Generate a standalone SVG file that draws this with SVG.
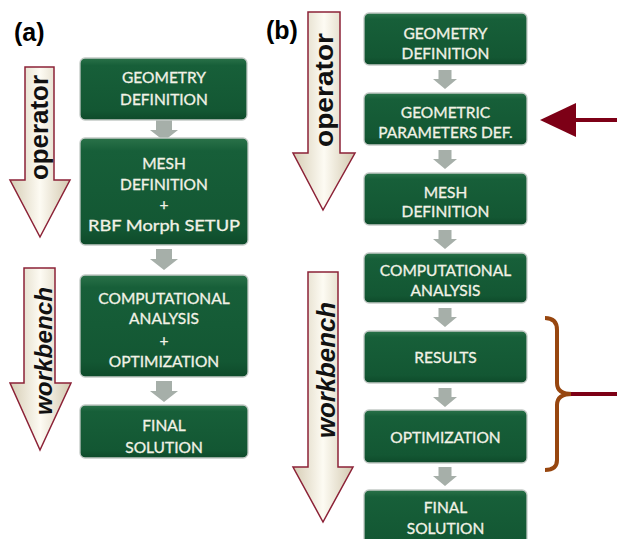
<svg xmlns="http://www.w3.org/2000/svg" width="617" height="539" viewBox="0 0 617 539">
<defs>
<linearGradient id="gBox" x1="0" y1="0" x2="0" y2="1">
<stop offset="0" stop-color="#2a7249"/>
<stop offset="0.12" stop-color="#175f39"/>
<stop offset="0.85" stop-color="#135733"/>
<stop offset="1" stop-color="#0e4a2a"/>
</linearGradient>
<linearGradient id="gCream" x1="0" y1="0" x2="1" y2="0">
<stop offset="0" stop-color="#d6cdb5"/>
<stop offset="0.5" stop-color="#fdfbf3"/>
<stop offset="1" stop-color="#d3c9b0"/>
</linearGradient>
<path id="arA" d="M-8,0 H8 V10 H14 L0,21 L-14,10 H-8 Z"/>
<path id="arB" d="M-6.5,0 H6.5 V9 H12 L0,19 L-12,9 H-6.5 Z"/>
</defs>
<style>
.box{fill:url(#gBox);stroke:#c3cac6;stroke-width:1.3}
.t{font-family:Lato,"Open Sans","Liberation Sans",sans-serif;font-size:15.5px;fill:#f2f2e6;stroke:#f2f2e6;stroke-width:0.3;text-anchor:middle}
.big{fill:url(#gCream);stroke:#8c2237;stroke-width:1.5;stroke-linejoin:miter}
.bt{font-family:"Liberation Sans",Arial,sans-serif;font-weight:bold;fill:#111;text-anchor:middle}
.lab{font-family:"Liberation Sans",Arial,sans-serif;font-weight:bold;font-size:25px;fill:#000}
.ga{fill:#a6afa9}
</style>
<rect width="617" height="539" fill="#ffffff"/>

<text class="lab" x="14" y="41">(a)</text>
<text class="lab" x="266" y="39">(b)</text>

<g id="big-arrows">
<g id="operator-a">
<path class="big" d="M25,67 H54 V180 H70 L40,237 L10,180 H25 Z"/>
<text class="bt" font-size="25" transform="translate(48,127.5) rotate(-90)" textLength="105" lengthAdjust="spacingAndGlyphs">operator</text>
</g>
<g id="workbench-a">
<path class="big" d="M24,268 H55 V383 H71 L40,450 L10,383 H24 Z"/>
<text class="bt" font-size="24" font-style="italic" transform="translate(52,351) rotate(-90)" textLength="128" lengthAdjust="spacingAndGlyphs">workbench</text>
</g>
<g id="operator-b">
<path class="big" d="M308,12 H340 V153 H355 L323,210 L293,153 H308 Z"/>
<text class="bt" font-size="26" transform="translate(333,90) rotate(-90)" textLength="114" lengthAdjust="spacingAndGlyphs">operator</text>
</g>
<g id="workbench-b">
<path class="big" d="M308,272 H338 V467 H353 L323,522 L293,467 H308 Z"/>
<text class="bt" font-size="25" font-style="italic" transform="translate(335,370) rotate(-90)" textLength="136" lengthAdjust="spacingAndGlyphs">workbench</text>
</g>
</g>

<g id="connectors">
<use href="#arA" class="ga" x="164" y="120"/>
<use href="#arA" class="ga" x="164" y="249"/>
<use href="#arA" class="ga" x="164" y="381"/>
<use href="#arB" class="ga" x="445" y="70"/>
<use href="#arB" class="ga" x="445" y="150"/>
<use href="#arB" class="ga" x="445" y="230"/>
<use href="#arB" class="ga" x="445" y="308"/>
<use href="#arB" class="ga" x="445" y="388"/>
<use href="#arB" class="ga" x="445" y="467"/>
<path d="M540,120 L576,103 L576,137 Z" fill="#7d0016"/>
<rect x="575" y="118" width="42" height="4" fill="#7d0016"/>
<path d="M545,318 C553,318 557,322 557,330 V383 C557,390 562,394 572,394 C562,394 557,398 557,405 V460 C557,467 553,470 545,470" fill="none" stroke="#97460f" stroke-width="4"/>
<path d="M571,394 H617" stroke="#7d0016" stroke-width="4"/>
</g>

<g id="geometry-a">
<rect class="box" x="80" y="58" width="167" height="62" rx="5"/>
<text class="t" x="164" y="83">GEOMETRY</text>
<text class="t" x="164" y="105">DEFINITION</text>
</g>
<g id="mesh-a">
<rect class="box" x="80" y="138" width="168" height="107" rx="5"/>
<text class="t" x="164" y="169">MESH</text>
<text class="t" x="164" y="190">DEFINITION</text>
<text class="t" x="164" y="210">+</text>
<text class="t" x="164" y="231" textLength="152" lengthAdjust="spacingAndGlyphs">RBF Morph SETUP</text>
</g>
<g id="computational-a">
<rect class="box" x="80" y="275" width="168" height="102" rx="5"/>
<text class="t" x="164" y="304">COMPUTATIONAL</text>
<text class="t" x="164" y="324">ANALYSIS</text>
<text class="t" x="164" y="346">+</text>
<text class="t" x="164" y="367">OPTIMIZATION</text>
</g>
<g id="final-a">
<rect class="box" x="80" y="405" width="168" height="53" rx="5"/>
<text class="t" x="164" y="431">FINAL</text>
<text class="t" x="164" y="453">SOLUTION</text>
</g>

<g id="geometry-b">
<rect class="box" x="364" y="13" width="163" height="52" rx="5"/>
<text class="t" x="445.5" y="39">GEOMETRY</text>
<text class="t" x="445.5" y="59">DEFINITION</text>
</g>
<g id="parameters-b">
<rect class="box" x="364" y="93" width="163" height="52" rx="5"/>
<text class="t" x="445.5" y="118">GEOMETRIC</text>
<text class="t" x="445.5" y="138">PARAMETERS DEF.</text>
</g>
<g id="mesh-b">
<rect class="box" x="364" y="173" width="163" height="52" rx="5"/>
<text class="t" x="445.5" y="198">MESH</text>
<text class="t" x="445.5" y="217">DEFINITION</text>
</g>
<g id="computational-b">
<rect class="box" x="364" y="253" width="163" height="50" rx="5"/>
<text class="t" x="445.5" y="276">COMPUTATIONAL</text>
<text class="t" x="445.5" y="296">ANALYSIS</text>
</g>
<g id="results-b">
<rect class="box" x="364" y="331" width="163" height="52" rx="5"/>
<text class="t" x="445.5" y="363">RESULTS</text>
</g>
<g id="optimization-b">
<rect class="box" x="364" y="410" width="163" height="53" rx="5"/>
<text class="t" x="445.5" y="443">OPTIMIZATION</text>
</g>
<g id="final-b">
<rect class="box" x="364" y="490" width="163" height="60" rx="5"/>
<text class="t" x="445.5" y="513">FINAL</text>
<text class="t" x="445.5" y="534">SOLUTION</text>
</g>
</svg>
